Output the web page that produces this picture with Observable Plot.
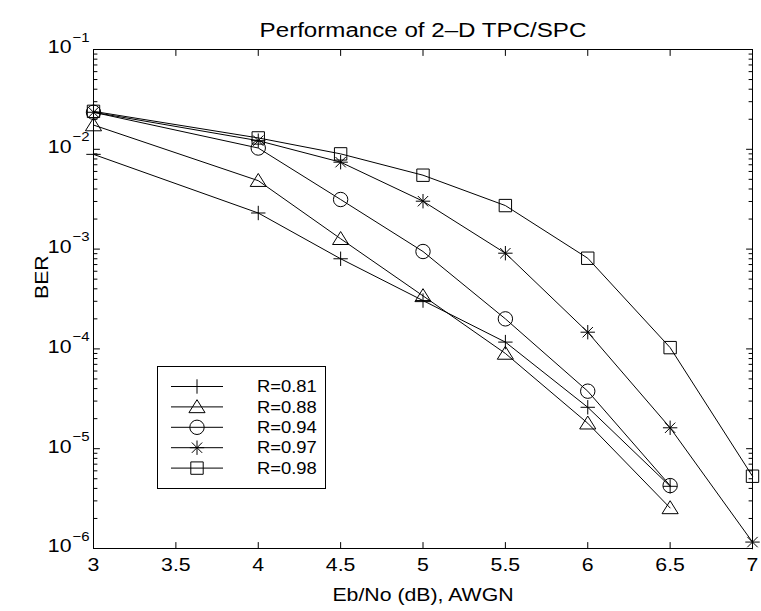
<!DOCTYPE html>
<html><head><meta charset="utf-8">
<script src="https://cdn.jsdelivr.net/npm/d3@7"></script>
<script src="https://cdn.jsdelivr.net/npm/@observablehq/plot@0.6"></script>
<style>
html,body{margin:0;padding:0;background:#fff;}
#chart{position:relative;width:761px;height:611px;overflow:hidden;background:#fff;}
#chart svg{position:absolute;left:0;top:0;}
</style></head><body><div id="chart"></div>
<script>
// ---- data ----
const titleText = "Performance of 2\u2013D TPC/SPC";
const xLabelText = "Eb/No (dB), AWGN";
const yLabelText = "BER";
const rateLabels = ["R=0.81", "R=0.88", "R=0.94", "R=0.97", "R=0.98"];
const ebnoShort = [3, 4, 4.5, 5, 5.5, 6, 6.5];
const ebnoLong = [3, 4, 4.5, 5, 5.5, 6, 6.5, 7];
const ber081 = [8.9e-3, 2.3e-3, 8.0e-4, 3.05e-4, 1.17e-4, 2.6e-5, 4.2e-6];
const ber088 = [1.75e-2, 4.85e-3, 1.27e-3, 3.4e-4, 9.0e-5, 1.8e-5, 2.55e-6];
const ber094 = [2.35e-2, 1.03e-2, 3.14e-3, 9.46e-4, 2.0e-4, 3.77e-5, 4.27e-6];
const ber097 = [2.35e-2, 1.22e-2, 7.43e-3, 3.02e-3, 9.1e-4, 1.47e-4, 1.62e-5, 1.16e-6];
const ber098 = [2.4e-2, 1.30e-2, 9.0e-3, 5.5e-3, 2.73e-3, 8.1e-4, 1.03e-4, 5.3e-6];
const xTicks = [3, 3.5, 4, 4.5, 5, 5.5, 6, 6.5, 7];
const yExponents = [-1, -2, -3, -4, -5, -6];

// ---- symbols (MATLAB-like, unfilled) ----
const rad = (size) => Math.sqrt(size / Math.PI);
const symPlus = {draw(c, s){const r = rad(s); c.moveTo(-r,0); c.lineTo(r,0); c.moveTo(0,-r); c.lineTo(0,r);}};
const symTri = {draw(c, s){const r = rad(s); c.moveTo(0,-r); c.lineTo(1.12*r,0.8*r); c.lineTo(-1.12*r,0.8*r); c.closePath();}};
const symCircle = {draw(c, s){const r = rad(s); c.moveTo(r,0); c.arc(0,0,r,0,2*Math.PI);}};
const symStar = {draw(c, s){const r = rad(s), d = r*0.72; c.moveTo(-r,0); c.lineTo(r,0); c.moveTo(0,-r); c.lineTo(0,r); c.moveTo(-d,-d); c.lineTo(d,d); c.moveTo(-d,d); c.lineTo(d,-d);}};
const symSquare = {draw(c, s){const h = rad(s)*0.86; c.moveTo(-h,-h); c.lineTo(h,-h); c.lineTo(h,h); c.lineTo(-h,h); c.closePath();}};

const series = [
  {label: rateLabels[0], x: ebnoShort, y: ber081, symbol: symPlus},
  {label: rateLabels[1], x: ebnoShort, y: ber088, symbol: symTri},
  {label: rateLabels[2], x: ebnoShort, y: ber094, symbol: symCircle},
  {label: rateLabels[3], x: ebnoLong, y: ber097, symbol: symStar},
  {label: rateLabels[4], x: ebnoLong, y: ber098, symbol: symSquare}
];
const rows = series.flatMap(s => s.x.map((x, i) => ({rate: s.label, ebno: x, ber: s.y[i]})));
const yMajor = yExponents.map(e => Math.pow(10, e));
const yMinor = [];
for (let e = -6; e < -1; e++) for (let m = 2; m <= 9; m++) yMinor.push(m * Math.pow(10, e));

const tickShape = {draw(c, l){c.moveTo(0,0); c.lineTo(0,-l);}};
const FONT = "'Liberation Sans', Arial, Helvetica, sans-serif";
const MARK = 7.2;

const tickMarks = (data, channel, frameAnchor, rotate, length) =>
  Plot.vector(data, {[channel]: d => d, frameAnchor, anchor: "start", rotate, length, shape: tickShape, stroke: "black", strokeWidth: 1});

const chart = Plot.plot({
  width: 761, height: 611,
  marginLeft: 93, marginRight: 9, marginTop: 49, marginBottom: 63,
  style: {fontFamily: FONT, color: "black", background: "white", overflow: "visible"},
  x: {domain: [3, 7], axis: null},
  y: {type: "log", domain: [1e-6, 1e-1], axis: null},
  marks: [
    Plot.frame({stroke: "black", strokeWidth: 1}),
    tickMarks(xTicks, "x", "bottom", 0, 6),
    tickMarks(xTicks, "x", "top", 180, 6),
    tickMarks(yMajor, "y", "left", 90, 6),
    tickMarks(yMajor, "y", "right", -90, 6),
    tickMarks(yMinor, "y", "left", 90, 3.5),
    tickMarks(yMinor, "y", "right", -90, 3.5),
    Plot.line(rows, {x: "ebno", y: "ber", z: "rate", stroke: "black", strokeWidth: 1}),
    ...series.map(s => Plot.dot(rows.filter(r => r.rate === s.label), {x: "ebno", y: "ber", symbol: s.symbol, r: MARK, fill: "none", stroke: "black", strokeWidth: 1})),
    Plot.text(xTicks, {x: d => d, frameAnchor: "bottom", dy: 22, text: d => String(d), fontSize: 18.5}),
    Plot.text(yMajor, {y: d => d, frameAnchor: "left", dx: -22, dy: -2, textAnchor: "end", text: () => "10", fontSize: 18.5}),
    Plot.text(yMajor, {y: d => d, frameAnchor: "left", dx: -21, dy: -12, textAnchor: "start", text: d => "\u2212" + Math.round(-Math.log10(d)), fontSize: 13}),
    Plot.text([titleText], {frameAnchor: "top", dy: -27, text: d => d, fontSize: 21}),
    Plot.text([xLabelText], {frameAnchor: "bottom", dy: 52, text: d => d, fontSize: 18.5}),
    Plot.text([yLabelText], {frameAnchor: "left", dx: -51, rotate: -90, text: d => d, fontSize: 18.5})
  ]
});
const host = document.getElementById("chart");
host.appendChild(chart);

// ---- legend ----
const leg = d3.create("svg").attr("width", 170).attr("height", 124)
  .style("left", "157px").style("top", "366px").attr("font-family", FONT);
leg.append("rect").attr("x", 0.5).attr("y", 0.5).attr("width", 168).attr("height", 122)
  .attr("fill", "white").attr("stroke", "black");
series.forEach((s, i) => {
  const cy = 20.5 + i * 20.4;
  leg.append("line").attr("x1", 14).attr("x2", 66).attr("y1", cy).attr("y2", cy).attr("stroke", "black");
  const p = d3.path(); s.symbol.draw(p, Math.PI * MARK * MARK);
  leg.append("path").attr("transform", `translate(40,${cy})`).attr("d", p.toString())
    .attr("fill", "none").attr("stroke", "black");
  leg.append("text").attr("transform", `translate(100,${cy})`).attr("dy", "0.35em")
    .attr("font-size", 16).text(s.label);
});
host.appendChild(leg.node());

// Helvetica in the reference renders wider than Liberation Sans: stretch text horizontally
for (const t of host.querySelectorAll("text")) {
  const tr = t.getAttribute("transform") || "";
  t.setAttribute("transform", (tr + " scale(1.15,1)").trim());
}
</script></body></html>
